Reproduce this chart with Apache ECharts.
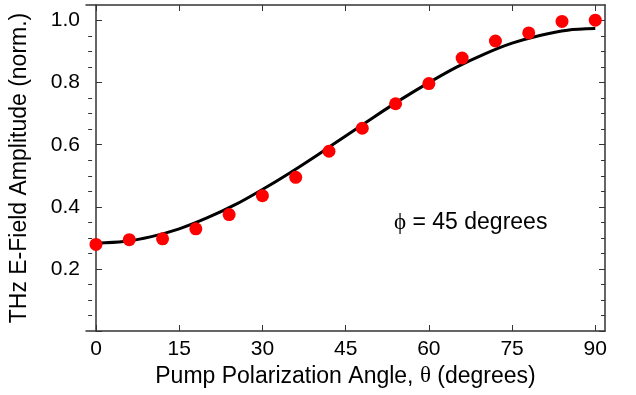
<!DOCTYPE html>
<html><head><meta charset="utf-8">
<script src="https://cdn.jsdelivr.net/npm/echarts@6/dist/echarts.min.js"></script>
<style>html,body{margin:0;padding:0;background:#fff}#c{width:636px;height:395px}</style>
</head><body><div id="c"></div>
<script>
// Measured data (red dots)
var thetaData = [0, 6, 12, 18, 24, 30, 36, 42, 48, 54, 60, 66, 72, 78, 84, 90];
var ampData = [0.279, 0.294, 0.297, 0.329, 0.375, 0.436, 0.495, 0.579, 0.653, 0.732, 0.797, 0.879, 0.934, 0.960, 0.997, 1.001];
// Fit curve (black line)
var fitTheta = [0, 5, 10, 15, 20, 25, 30, 35, 40, 45, 50, 55, 60, 65, 70, 75, 80, 85, 90];
var fitAmp = [0.283, 0.288, 0.304, 0.329, 0.364, 0.406, 0.456, 0.510, 0.568, 0.628, 0.688, 0.746, 0.800, 0.850, 0.892, 0.927, 0.952, 0.969, 0.974];
// Tick labels
var xTicks = [0, 15, 30, 45, 60, 75, 90];
var yTicks = [0.2, 0.4, 0.6, 0.8, 1.0];
var yMajor = [0, 0.2, 0.4, 0.6, 0.8, 1.0];
var yMinor = [0.05, 0.1, 0.15, 0.25, 0.3, 0.35, 0.45, 0.5, 0.55, 0.65, 0.7, 0.75, 0.85, 0.9, 0.95];

var FONT = '"Liberation Sans", Arial, sans-serif';
var SERIF = '"Liberation Serif", "DejaVu Serif", serif';
var AX = '#333';
var chart = echarts.init(document.getElementById('c'));
var gridRect = {left: 78, right: 31, top: 5, bottom: 64};
var xMin = -1.8, xMax = 91.75, yMin = 0, yMax = 1.05;

chart.setOption({
  animation: false,
  grid: [Object.assign({}, gridRect), Object.assign({}, gridRect)],
  xAxis: [
    {gridIndex: 0, type: 'value', position: 'bottom', min: xMin, max: xMax,
     axisLine: {onZero: false, lineStyle: {color: AX, width: 1.5}},
     axisTick: {inside: true, length: 6, customValues: xTicks, lineStyle: {color: AX, width: 1}},
     axisLabel: {customValues: xTicks, color: '#000', fontFamily: FONT, fontSize: 21, margin: 8},
     splitLine: {show: false},
     name: 'Pump Polarization Angle, {t|θ} (degrees)', nameLocation: 'middle', nameGap: 33,
     nameTextStyle: {color: '#000', fontFamily: FONT, fontSize: 23,
       rich: {t: {fontFamily: SERIF, fontSize: 23, color: '#000'}}}
    },
    {gridIndex: 0, type: 'value', position: 'top', min: xMin, max: xMax,
     axisLine: {onZero: false, lineStyle: {color: AX, width: 1.5}},
     axisTick: {inside: true, length: 6, customValues: xTicks, lineStyle: {color: AX, width: 1}},
     axisLabel: {show: false}, splitLine: {show: false}},
    {gridIndex: 1, type: 'value', show: false, min: xMin, max: xMax}
  ],
  yAxis: [
    {gridIndex: 0, type: 'value', position: 'left', min: yMin, max: yMax, interval: 0.2,
     axisLine: {show: true, onZero: true, lineStyle: {color: AX, width: 1.5}},
     axisTick: {show: true, inside: true, length: 6, customValues: yMajor, lineStyle: {color: AX, width: 1}},
     axisLabel: {customValues: yTicks, color: '#000', fontFamily: FONT, fontSize: 21, margin: 6,
       formatter: function (v) { return v.toFixed(1); }},
     splitLine: {show: false},
     name: 'THz E-Field Amplitude (norm.)', nameLocation: 'middle', nameGap: 55,
     nameTextStyle: {color: '#000', fontFamily: FONT, fontSize: 23}
    },
    {gridIndex: 0, type: 'value', position: 'right', min: yMin, max: yMax, interval: 0.2,
     axisLine: {show: true, onZero: false, lineStyle: {color: AX, width: 1.5}},
     axisTick: {show: true, inside: true, length: 6, customValues: yMajor, lineStyle: {color: AX, width: 1}},
     axisLabel: {show: false}, splitLine: {show: false}},
    {gridIndex: 1, type: 'value', position: 'left', min: yMin, max: yMax, interval: 0.05,
     axisLine: {show: false, onZero: true},
     axisTick: {show: true, inside: true, length: 4, customValues: yMinor, lineStyle: {color: AX, width: 1}},
     axisLabel: {show: false}, splitLine: {show: false}},
    {gridIndex: 1, type: 'value', position: 'right', min: yMin, max: yMax, interval: 0.05,
     axisLine: {show: false, onZero: false},
     axisTick: {show: true, inside: true, length: 4, customValues: yMinor, lineStyle: {color: AX, width: 1}},
     axisLabel: {show: false}, splitLine: {show: false}}
  ],
  series: [
    {type: 'line', xAxisIndex: 0, yAxisIndex: 0, smooth: 0.3, showSymbol: false,
     data: fitTheta.map(function (t, i) { return [t, fitAmp[i]]; }),
     lineStyle: {color: '#000', width: 3}, z: 2},
    {type: 'scatter', xAxisIndex: 0, yAxisIndex: 0, symbolSize: 13,
     data: thetaData.map(function (t, i) { return [t, ampData[i]]; }),
     itemStyle: {color: '#ff0000', opacity: 1}, z: 3}
  ],
  graphic: [{
    type: 'text', left: 394, top: 211,
    style: {
      text: '{p|ϕ} = 45 degrees',
      fill: '#000', font: '23px ' + FONT,
      rich: {p: {fontFamily: SERIF, fontSize: 23, fill: '#000'}}
    }
  }]
});
</script></body></html>
